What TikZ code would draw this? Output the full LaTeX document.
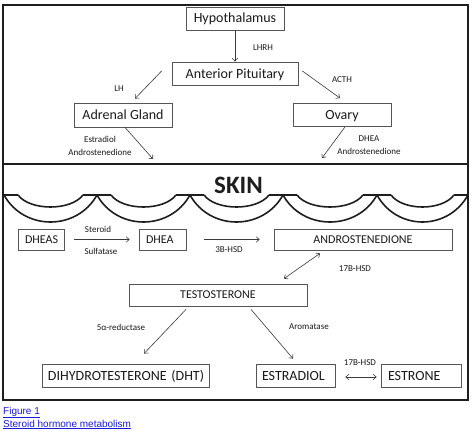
\documentclass[tikz,border=0pt]{standalone}
\usepackage{fontspec}
\setmainfont{Carlito}
\newfontfamily\linkfont{Liberation Sans}
\usetikzlibrary{arrows.meta,calc}
\definecolor{ink}{HTML}{1A1A1A}
\definecolor{boxline}{HTML}{555555}
\definecolor{arrline}{HTML}{3A3A3A}
\definecolor{frame}{HTML}{1E1E1E}
\definecolor{linkblue}{HTML}{1A1ADB}
\begin{document}
\begin{tikzpicture}[x=1pt,y=-1pt,
  box/.style={draw=boxline, line width=0.8pt, inner sep=0pt, text=ink,
    font=\fontsize{14}{16}\selectfont, minimum height=23pt, text height=9pt, text depth=0pt},
  midbox/.style={box, font=\fontsize{12}{14}\selectfont, minimum height=21pt, text height=7.8pt},
  leftbox/.style={align=left, inner xsep=#1},
  lab/.style={inner sep=0pt, text=ink, font=\fontsize{9}{13}\selectfont, align=center},
  arr/.style={draw=arrline, line width=0.6pt, -{Straight Barb[length=3pt,width=5.5pt]}},
  darr/.style={draw=arrline, line width=0.6pt, {Straight Barb[length=3pt,width=5.5pt]}-{Straight Barb[length=3pt,width=5.5pt]}},
  scallop/.style={draw=frame, line width=1.6pt},
  linktext/.style={inner sep=0pt, text=linkblue, font=\linkfont\fontsize{10}{12}\selectfont}
]
\useasboundingbox (0,0) rectangle (475,431);
\fill[white] (0,0) rectangle (475,431);

% top section boxes
\node[box, minimum width=98pt] (hyp) at (235,18.5) {Hypothalamus};
\node[box, minimum width=126pt] (ap) at (235,73.5) {Anterior Pituitary};
\node[box, minimum width=98pt, minimum height=24pt] (adr) at (123,115) {Adrenal Gland};
\node[box, minimum width=98pt] (ova) at (342,115) {Ovary};

% frame
\draw[frame, line width=2.2pt] (3,5) rectangle (468,400);
\draw[frame, line width=2.2pt] (3,164) -- (468,164);

% top arrows
\draw[arr] (hyp.south) -- (ap.north);
\draw[arr] ($(ap.west)+(-10,-2.5)$) -- ($(adr.north)+(12,-4)$);
\draw[arr] ($(ap.east)+(4,-2.5)$) -- ($(ova.north)+(-2,-5)$);
\coordinate (inL) at (153,159);
\coordinate (inR) at (322,158);
\draw[arr] ($(adr.south)+(2,0)$) -- (inL);
\draw[arr] ($(ova.south)+(3,0)$) -- (inR);

% top labels
\node[lab] (lhrh) at (263,48) {LHRH};
\node[lab] (lh) at (119,89) {LH};
\node[lab] (acth) at (342,80) {ACTH};
\node[lab] (outL) at (100,145.5) {Estradiol\\Androstenedione};
\node[lab] (outR) at (369,145.5) {DHEA\\Androstenedione};

% skin
\node[inner sep=0pt, anchor=base, text=frame, font=\fontsize{25}{28}\selectfont\bfseries] (skin) at (238.5,193) {SKIN};
\foreach \a/\b in {4/97, 97/190, 190/283, 283/377, 377/468} {
  \draw[scallop] (\a,195) .. controls (\a+20,231) and (\b-20,231) .. (\b,195);
  \draw[scallop] (\a+14,195) .. controls (\a+26,211) and (\b-26,211) .. (\b-14,195);
  \draw[scallop] (\a,195) -- (\a+14,195);
  \draw[scallop] (\b-14,195) -- (\b,195);
}

% skin boxes
\node[midbox, leftbox=7pt, text width=32pt] (dheas) at (41,239.5) {\mbox{DHEAS}};
\node[midbox, leftbox=7pt, text width=33pt] (dhea) at (162.5,239.5) {\mbox{DHEA}};
\node[midbox, minimum width=178pt] (andro) at (363,239.5) {ANDROSTENEDIONE};
\node[midbox, minimum width=178pt, minimum height=22pt] (testo) at (218,295) {TESTOSTERONE};
\node[box, leftbox=6pt, text width=155pt] (dht) at (125.5,375.5) {\mbox{DIHYDROTESTERONE (DHT)}};
\node[box, leftbox=6pt, text width=67pt] (estd) at (295.5,375.5) {\mbox{ESTRADIOL}};
\node[box, leftbox=7pt, text width=66pt] (estr) at (421,375.5) {\mbox{ESTRONE}};

% skin arrows
\draw[arr] ($(dheas.east)+(10,0)$) -- ($(dhea.west)+(-9,0)$);
\draw[arr] ($(dhea.east)+(18,0)$) -- ($(andro.west)+(-14,0)$);
\draw[darr] ($(andro.south)+(-43,3)$) -- ($(testo.north)+(66,-5)$);
\draw[arr] ($(testo.south)+(-32,3)$) -- ($(dht.north)+(18.5,-10)$);
\draw[arr] ($(testo.south)+(33,3)$) -- ($(estd.north)+(-2.5,-5)$);
\draw[darr] ($(estd.east)+(10,1.5)$) -- ($(estr.west)+(-4,1.5)$);

% skin labels
\node[lab] (steroid) at (98,229) {Steroid};
\node[lab] (sulf) at (101,251) {Sulfatase};
\node[lab] (hsd3) at (229,250) {3B-HSD};
\node[lab] (hsd17a) at (355,269) {17B-HSD};
\node[lab] (red) at (121,327) {5α-reductase};
\node[lab] (arom) at (309,327) {Aromatase};
\node[lab] (hsd17b) at (360,363) {17B-HSD};

% caption links
\node[linktext, anchor=base west] (fig) at (3,414) {\underline{Figure 1}};
\node[linktext, anchor=base west] (cap) at (3,427) {\underline{Steroid hormone metabolism}};
\end{tikzpicture}
\end{document}
